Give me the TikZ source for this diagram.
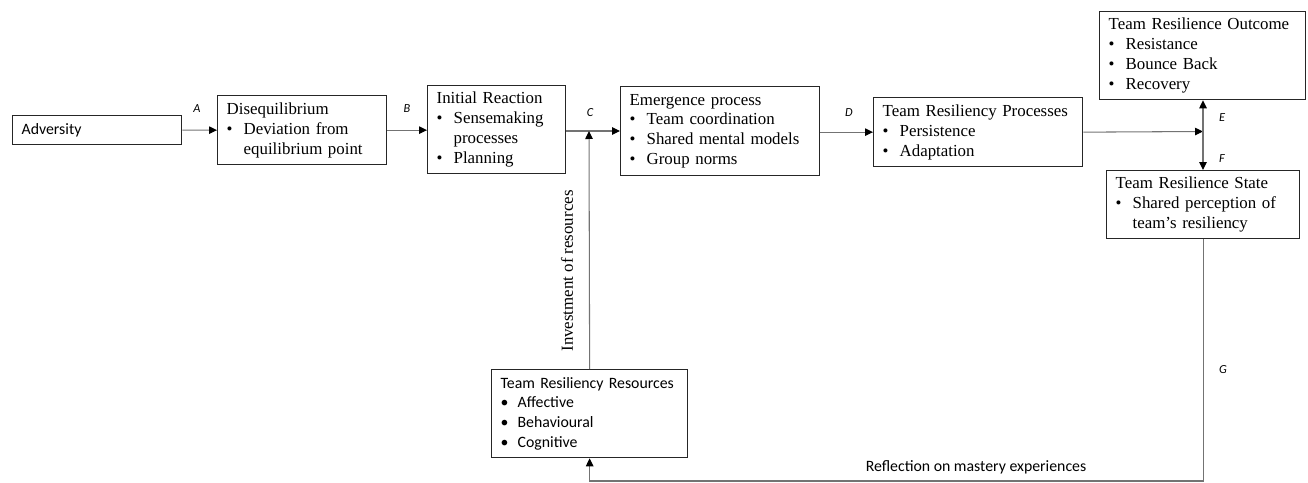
\documentclass[tikz,border=0pt]{standalone}
\usepackage{fontspec}
\setmainfont{Liberation Serif}
\setsansfont{Carlito}
\usetikzlibrary{arrows.meta}
\hyphenpenalty=10000
\newcommand{\bul}{\makebox[0.34cm][l]{\textbullet}}
\newcommand{\ind}{\hspace*{0.34cm}}
\begin{document}
\begin{tikzpicture}[x=0.02cm,y=-0.02cm,
    box/.style={draw=black!85,line width=0.75pt,anchor=north west,align=left,
      inner xsep=0.18cm,inner ysep=0pt,font=\fontsize{9.6}{11.3}\selectfont},
    sbox/.style={box,font=\sffamily\fontsize{9}{11.3}\selectfont},
    conn/.style={draw=black!55,line width=0.6pt},
    tip/.style={-{Triangle[length=0.16cm,width=0.15cm,color=black]}},
    lab/.style={font=\sffamily\itshape\fontsize{7}{8}\selectfont}]
        \useasboundingbox (0,0) rectangle (1308,483);
        \draw (12,115) node[sbox,text width=3.02cm,minimum height=0.58cm](adv){Adversity};
        \draw (217,95) node[box,text width=3.02cm,minimum height=1.38cm](dis){Disequilibrium\\
          \bul Deviation from\\ \ind equilibrium point};
        \draw (427,85) node[box,text width=2.40cm,minimum height=1.76cm](ini){Initial Reaction\\
          \bul Sensemaking\\ \ind processes\\ \bul Planning};
        \draw (620,86) node[box,text width=3.62cm,minimum height=1.78cm](emg){Emergence process\\
          \bul Team coordination\\ \bul Shared mental models\\ \bul Group norms};
        \draw (873,97) node[box,text width=3.82cm,minimum height=1.38cm](trp){Team Resiliency Processes\\
          \bul Persistence\\ \bul Adaptation};
        \draw (1099,11) node[box,text width=3.76cm,minimum height=1.76cm](out){Team Resilience Outcome\\
          \bul Resistance\\ \bul Bounce Back\\ \bul Recovery};
        \draw (1106,170) node[box,text width=3.50cm,minimum height=1.36cm](sta){Team Resilience State\\
          \bul Shared perception of\\ \ind team's resiliency};
        \draw (491,369) node[sbox,text width=3.56cm,minimum height=1.76cm](res){Team Resiliency Resources\\
          \bul Affective\\ \bul Behavioural\\ \bul Cognitive};
        \coordinate (cj) at (589,131);
        \coordinate (ej) at (1203,131.5);
        \coordinate (low) at (0,481);
        \draw[conn,tip]
          (adv) -- (dis);
        \draw[conn,tip]
          (dis.east) -- (dis.east -| ini.west);
        \draw[conn,tip]
          (ini.east |- cj) -- (cj -| emg.west);
        \draw[conn,tip]
          (emg.east |- trp.west) -- (trp.west);
        \draw[conn,tip]
          (trp.east) -- (ej);
        \draw[conn,tip]
          (ej) -- (ej |- out.south);
        \draw[conn,tip]
          (ej) -- (ej |- sta.north);
        \draw[conn,tip]
          (res.north) -- (cj);
        \draw[conn,tip]
          (sta.south) -- (sta.south |- low) -- (res.south |- low) -- (res.south);
        \draw (197,109) node[lab](la){A};
        \draw (407,109) node[lab](lb){B};
        \draw (590,113) node[lab](lc){C};
        \draw (849,113) node[lab](ld){D};
        \draw (1222,118) node[lab](le){E};
        \draw (1222,159) node[lab](lf){F};
        \draw (1223,370) node[lab](lg){G};
        \draw (976,467) node[font=\sffamily\fontsize{9}{11}\selectfont](refl){Reflection on mastery experiences};
        \draw (567,271) node[rotate=90,font=\fontsize{9.6}{11}\selectfont](inv){Investment of resources};
\end{tikzpicture}
\end{document}
